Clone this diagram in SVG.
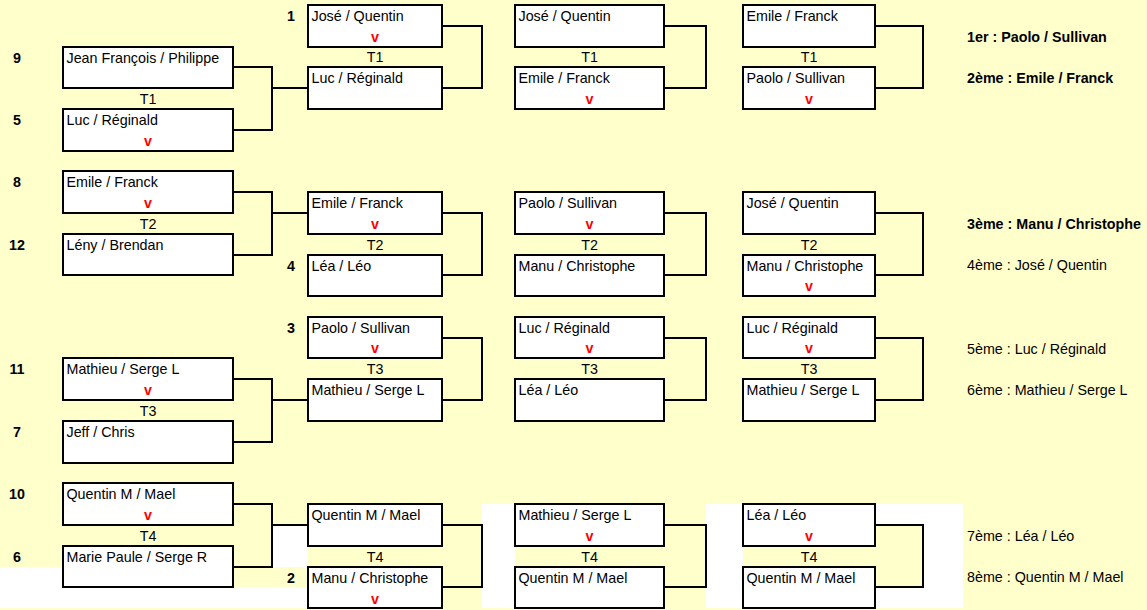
<svg xmlns="http://www.w3.org/2000/svg" width="1147" height="610" viewBox="0 0 1147 610">
<style>
text{font-family:"Liberation Sans",Arial,sans-serif;font-size:14.3px;fill:#000}
.box{fill:#fff;stroke:#000;stroke-width:2}
.v{fill:#ff0000;font-weight:bold;text-anchor:middle}
.t{text-anchor:middle}
.seed{font-weight:bold;text-anchor:middle}
.b{font-weight:bold}
.con{fill:none;stroke:#000;stroke-width:2}
</style>
<rect x="0" y="0" width="1147" height="610" fill="#ffffcc"/>
<g id="white-areas" fill="#ffffff">
<rect x="0" y="567" width="63" height="41"/>
<rect x="63" y="587" width="245" height="21"/>
<rect x="272" y="525" width="36" height="42"/>
<rect x="482" y="504" width="33" height="104"/>
<rect x="706" y="504" width="37" height="104"/>
<rect x="875" y="504" width="88" height="21"/>
<rect x="923" y="525" width="40" height="83"/>
<rect x="875" y="587" width="48" height="21"/>
</g>
<g id="connectors">
<path class="con" d="M233,67H272V130H233M272,88H308"/>
<path class="con" d="M233,192H272V255H233M272,213H308"/>
<path class="con" d="M233,379H272V442H233M272,400H308"/>
<path class="con" d="M233,504H272V567H233M272,525H308"/>
<path class="con" d="M442,26H482V88H442M442,213H482V275H442M442,338H482V400H442M442,525H482V587H442"/>
<path class="con" d="M664,26H706V88H664M664,213H706V275H664M664,338H706V400H664M664,525H706V587H664"/>
<path class="con" d="M875,26H923V88H875M875,213H923V275H875M875,338H923V400H875M875,525H923V587H875"/>
</g>
<g id="col1">
<g id="c1b1"><rect class="box" x="63" y="47" width="170" height="41"/><text x="66.5" y="63">Jean François / Philippe</text></g>
<g id="c1b2"><rect class="box" x="63" y="109" width="170" height="42"/><text x="66.5" y="125">Luc / Réginald</text><text class="v" x="148" y="146">v</text></g>
<g id="c1b3"><rect class="box" x="63" y="171" width="170" height="42"/><text x="66.5" y="187">Emile / Franck</text><text class="v" x="148" y="208">v</text></g>
<g id="c1b4"><rect class="box" x="63" y="234" width="170" height="41"/><text x="66.5" y="250">Lény / Brendan</text></g>
<g id="c1b5"><rect class="box" x="63" y="358" width="170" height="42"/><text x="66.5" y="374">Mathieu / Serge L</text><text class="v" x="148" y="395">v</text></g>
<g id="c1b6"><rect class="box" x="63" y="421" width="170" height="42"/><text x="66.5" y="437">Jeff / Chris</text></g>
<g id="c1b7"><rect class="box" x="63" y="483" width="170" height="42"/><text x="66.5" y="499">Quentin M / Mael</text><text class="v" x="148" y="520">v</text></g>
<g id="c1b8"><rect class="box" x="63" y="546" width="170" height="41"/><text x="66.5" y="562">Marie Paule / Serge R</text></g>
<text class="seed" x="17" y="63">9</text>
<text class="seed" x="17" y="125">5</text>
<text class="seed" x="17" y="187">8</text>
<text class="seed" x="17" y="250">12</text>
<text class="seed" x="17" y="374">11</text>
<text class="seed" x="17" y="437">7</text>
<text class="seed" x="17" y="499">10</text>
<text class="seed" x="17" y="562">6</text>
<text class="t" x="148" y="104">T1</text>
<text class="t" x="148" y="229">T2</text>
<text class="t" x="148" y="416">T3</text>
<text class="t" x="148" y="541">T4</text>
</g>
<g id="col2">
<g id="c2b1"><rect class="box" x="308" y="5" width="134" height="42"/><text x="311.5" y="21">José / Quentin</text><text class="v" x="375" y="42">v</text></g>
<g id="c2b2"><rect class="box" x="308" y="67" width="134" height="42"/><text x="311.5" y="83">Luc / Réginald</text></g>
<g id="c2b3"><rect class="box" x="308" y="192" width="134" height="42"/><text x="311.5" y="208">Emile / Franck</text><text class="v" x="375" y="229">v</text></g>
<g id="c2b4"><rect class="box" x="308" y="255" width="134" height="41"/><text x="311.5" y="271">Léa / Léo</text></g>
<g id="c2b5"><rect class="box" x="308" y="317" width="134" height="41"/><text x="311.5" y="333">Paolo / Sullivan</text><text class="v" x="375" y="353">v</text></g>
<g id="c2b6"><rect class="box" x="308" y="379" width="134" height="42"/><text x="311.5" y="395">Mathieu / Serge L</text></g>
<g id="c2b7"><rect class="box" x="308" y="504" width="134" height="42"/><text x="311.5" y="520">Quentin M / Mael</text></g>
<g id="c2b8"><rect class="box" x="308" y="567" width="134" height="41"/><text x="311.5" y="583">Manu / Christophe</text><text class="v" x="375" y="604">v</text></g>
<text class="seed" x="291" y="21">1</text>
<text class="seed" x="291" y="271">4</text>
<text class="seed" x="291" y="333">3</text>
<text class="seed" x="291" y="583">2</text>
<text class="t" x="375" y="62">T1</text>
<text class="t" x="375" y="250">T2</text>
<text class="t" x="375" y="374">T3</text>
<text class="t" x="375" y="562">T4</text>
</g>
<g id="col3">
<g id="c3b1"><rect class="box" x="515" y="5" width="149" height="42"/><text x="518.5" y="21">José / Quentin</text></g>
<g id="c3b2"><rect class="box" x="515" y="67" width="149" height="42"/><text x="518.5" y="83">Emile / Franck</text><text class="v" x="589.5" y="104">v</text></g>
<g id="c3b3"><rect class="box" x="515" y="192" width="149" height="42"/><text x="518.5" y="208">Paolo / Sullivan</text><text class="v" x="589.5" y="229">v</text></g>
<g id="c3b4"><rect class="box" x="515" y="255" width="149" height="41"/><text x="518.5" y="271">Manu / Christophe</text></g>
<g id="c3b5"><rect class="box" x="515" y="317" width="149" height="41"/><text x="518.5" y="333">Luc / Réginald</text><text class="v" x="589.5" y="353">v</text></g>
<g id="c3b6"><rect class="box" x="515" y="379" width="149" height="42"/><text x="518.5" y="395">Léa / Léo</text></g>
<g id="c3b7"><rect class="box" x="515" y="504" width="149" height="42"/><text x="518.5" y="520">Mathieu / Serge L</text><text class="v" x="589.5" y="541">v</text></g>
<g id="c3b8"><rect class="box" x="515" y="567" width="149" height="41"/><text x="518.5" y="583">Quentin M / Mael</text></g>
<text class="t" x="589.5" y="62">T1</text>
<text class="t" x="589.5" y="250">T2</text>
<text class="t" x="589.5" y="374">T3</text>
<text class="t" x="589.5" y="562">T4</text>
</g>
<g id="col4">
<g id="c4b1"><rect class="box" x="743" y="5" width="132" height="42"/><text x="746.5" y="21">Emile / Franck</text></g>
<g id="c4b2"><rect class="box" x="743" y="67" width="132" height="42"/><text x="746.5" y="83">Paolo / Sullivan</text><text class="v" x="809" y="104">v</text></g>
<g id="c4b3"><rect class="box" x="743" y="192" width="132" height="42"/><text x="746.5" y="208">José / Quentin</text></g>
<g id="c4b4"><rect class="box" x="743" y="255" width="132" height="41"/><text x="746.5" y="271">Manu / Christophe</text><text class="v" x="809" y="291">v</text></g>
<g id="c4b5"><rect class="box" x="743" y="317" width="132" height="41"/><text x="746.5" y="333">Luc / Réginald</text><text class="v" x="809" y="353">v</text></g>
<g id="c4b6"><rect class="box" x="743" y="379" width="132" height="42"/><text x="746.5" y="395">Mathieu / Serge L</text></g>
<g id="c4b7"><rect class="box" x="743" y="504" width="132" height="42"/><text x="746.5" y="520">Léa / Léo</text><text class="v" x="809" y="541">v</text></g>
<g id="c4b8"><rect class="box" x="743" y="567" width="132" height="41"/><text x="746.5" y="583">Quentin M / Mael</text></g>
<text class="t" x="809" y="62">T1</text>
<text class="t" x="809" y="250">T2</text>
<text class="t" x="809" y="374">T3</text>
<text class="t" x="809" y="562">T4</text>
</g>
<g id="ranking">
<text class="b" x="967" y="42">1er : Paolo / Sullivan</text>
<text class="b" x="967" y="83">2ème : Emile / Franck</text>
<text class="b" x="967" y="229">3ème : Manu / Christophe</text>
<text x="967" y="270">4ème : José / Quentin</text>
<text x="967" y="354">5ème : Luc / Réginald</text>
<text x="967" y="395">6ème : Mathieu / Serge L</text>
<text x="967" y="541">7ème : Léa / Léo</text>
<text x="967" y="582">8ème : Quentin M / Mael</text>
</g>
</svg>
